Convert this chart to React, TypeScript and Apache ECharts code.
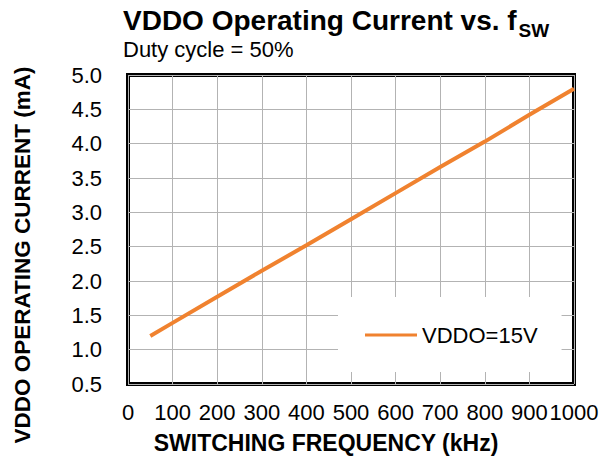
import React, { useEffect, useRef } from "react";
import * as echarts from "echarts";

const frequencyKHz = [50, 100, 200, 300, 400, 500, 600, 700, 800, 900, 1000];
const currentMA = [1.2, 1.39, 1.77, 2.15, 2.52, 2.9, 3.28, 3.66, 4.03, 4.42, 4.8];
const seriesName = "VDDO=15V";
const titleMain = "VDDO Operating Current vs. f";
const titleSub = "SW";
const subtitle = "Duty cycle = 50%";
const xTitle = "SWITCHING FREQUENCY (kHz)";
const yTitle = "VDDO OPERATING CURRENT (mA)";

const FONT = "'Liberation Sans', Arial, Helvetica, sans-serif";

export default function App() {
  const ref = useRef<HTMLDivElement>(null);
  useEffect(() => {
    if (!ref.current) return;
    const chart = echarts.init(ref.current, null, { renderer: "svg" });
    chart.setOption({
      animation: false,
      backgroundColor: "#fff",
      textStyle: { fontFamily: FONT },
      title: [
        {
          text: `{a|${titleMain}}{b|${titleSub}}`,
          left: 123,
          top: 0,
          padding: 0,
          textStyle: {
            rich: {
              a: { fontFamily: FONT, fontSize: 28, fontWeight: "bold", color: "#000", lineHeight: 40, verticalAlign: "middle" },
              b: { fontFamily: FONT, fontSize: 19, fontWeight: "bold", color: "#000", lineHeight: 40, verticalAlign: "bottom", padding: [0, 0, 0, 2] },
            },
          },
        },
        {
          text: subtitle,
          left: 123,
          top: 37,
          padding: 0,
          textStyle: { fontFamily: FONT, fontSize: 22, fontWeight: "normal", color: "#000", lineHeight: 24 },
        },
      ],
      grid: {
        left: 128,
        right: 36,
        top: 75,
        bottom: 75,
        show: true,
        borderColor: "#000",
        borderWidth: 4,
        backgroundColor: "transparent",
      },
      legend: {
        show: true,
        data: [seriesName],
        left: 338,
        top: 297,
        backgroundColor: "#fff",
        padding: [26, 24, 25, 27],
        icon: "rect",
        itemWidth: 52,
        itemHeight: 3,
        itemGap: 5,
        textStyle: { fontFamily: FONT, fontSize: 22, color: "#000", lineHeight: 24 },
      },
      xAxis: {
        type: "value",
        min: 0,
        max: 1000,
        interval: 100,
        axisLine: { show: false },
        axisTick: { show: false },
        axisLabel: {
          fontFamily: FONT,
          fontSize: 22,
          color: "#000",
          margin: 17,
          formatter: (v: number) => String(v),
        },
        splitLine: { show: true, lineStyle: { color: "#b3b3b3", width: 1 } },
      },
      yAxis: {
        type: "value",
        min: 0.5,
        max: 5.0,
        interval: 0.5,
        axisLine: { show: false },
        axisTick: { show: false },
        axisLabel: {
          fontFamily: FONT,
          fontSize: 22,
          color: "#000",
          margin: 26,
          formatter: (v: number) => v.toFixed(1),
        },
        splitLine: { show: true, lineStyle: { color: "#b3b3b3", width: 1 } },
      },
      graphic: [
        {
          type: "text",
          x: 22,
          y: 255,
          rotation: Math.PI / 2,
          style: {
            text: yTitle,
            fontFamily: FONT,
            fontSize: 22.5,
            fontWeight: "bold",
            fill: "#000",
            align: "center",
            verticalAlign: "middle",
          },
        },
        {
          type: "text",
          x: 326,
          y: 443,
          style: {
            text: xTitle,
            fontFamily: FONT,
            fontSize: 23,
            fontWeight: "bold",
            fill: "#000",
            align: "center",
            verticalAlign: "middle",
          },
        },
      ],
      series: [
        {
          name: seriesName,
          type: "line",
          data: frequencyKHz.map((f, i) => [f, currentMA[i]]),
          showSymbol: false,
          lineStyle: { color: "#f0822f", width: 4 },
          itemStyle: { color: "#f0822f" },
        },
      ],
    });
    return () => chart.dispose();
  }, []);
  return (
    <div
      ref={ref}
      style={{ position: "fixed", left: 0, top: 0, width: 610, height: 459 }}
    />
  );
}
